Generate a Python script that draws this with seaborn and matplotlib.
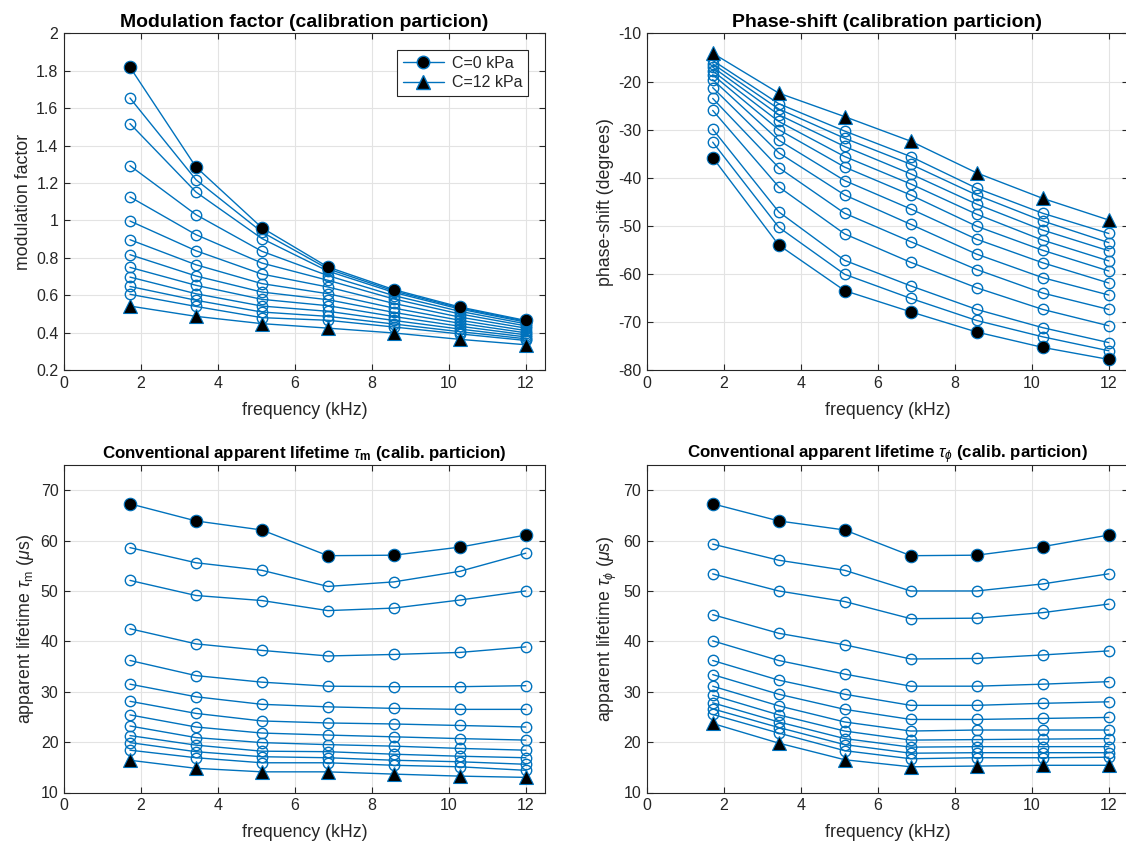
import numpy as np
import pandas as pd
import matplotlib
matplotlib.use("Agg")
import matplotlib.pyplot as plt
import seaborn as sns
from matplotlib.lines import Line2D
from matplotlib.ticker import FuncFormatter

# ---------------- data ----------------
freq = [1.714, 3.429, 5.143, 6.857, 8.571, 10.286, 12.0]   # kHz
conc = list(range(13))                                      # C = 0 .. 12 kPa

# modulation factor, one list per frequency, values for C=0..12
mod_f1 = [1.82, 1.655, 1.518, 1.293, 1.126, 0.997, 0.897, 0.817, 0.749, 0.697, 0.647, 0.605, 0.542]
mod_f2 = [1.286, 1.218, 1.152, 1.031, 0.924, 0.838, 0.763, 0.703, 0.653, 0.608, 0.573, 0.540, 0.487]
mod_f3 = [0.961, 0.938, 0.903, 0.835, 0.772, 0.713, 0.662, 0.617, 0.578, 0.542, 0.510, 0.480, 0.448]
mod_f4 = [0.751, 0.741, 0.729, 0.705, 0.680, 0.644, 0.608, 0.576, 0.544, 0.514, 0.487, 0.466, 0.424]
mod_f5 = [0.630, 0.623, 0.615, 0.598, 0.580, 0.556, 0.531, 0.508, 0.486, 0.465, 0.446, 0.430, 0.398]
mod_f6 = [0.537, 0.532, 0.526, 0.514, 0.500, 0.483, 0.466, 0.450, 0.434, 0.419, 0.405, 0.393, 0.364]
mod_f7 = [0.465, 0.461, 0.456, 0.447, 0.436, 0.424, 0.411, 0.399, 0.388, 0.377, 0.367, 0.358, 0.335]

# phase-shift (degrees)
ph_f1 = [-35.8, -32.6, -29.9, -26.0, -23.5, -21.25, -19.6, -18.6, -17.8, -17.0, -16.3, -15.6, -14.1]
ph_f2 = [-54.0, -50.3, -47.1, -41.9, -37.9, -34.8, -32.2, -30.0, -28.3, -26.9, -25.7, -24.6, -22.4]
ph_f3 = [-63.5, -60.1, -57.2, -51.7, -47.4, -43.6, -40.6, -37.8, -35.6, -33.5, -31.8, -30.3, -27.3]
ph_f4 = [-67.9, -65.1, -62.5, -57.6, -53.3, -49.7, -46.5, -43.6, -41.3, -39.2, -37.2, -35.6, -32.4]
ph_f5 = [-72.1, -69.7, -67.4, -62.9, -59.1, -55.9, -52.8, -50.1, -47.6, -45.5, -43.6, -42.2, -39.0]
ph_f6 = [-75.3, -73.1, -71.2, -67.4, -64.0, -60.8, -57.7, -55.1, -53.0, -50.9, -49.0, -47.4, -44.3]
ph_f7 = [-77.8, -76.0, -74.3, -70.8, -67.4, -64.4, -61.9, -59.4, -57.3, -55.2, -53.5, -51.6, -48.8]

# apparent lifetime tau_m (us)
tm_f1 = [67.3, 58.6, 52.1, 42.5, 36.2, 31.5, 28.1, 25.4, 23.2, 21.3, 19.9, 18.4, 16.4]
tm_f2 = [63.9, 55.6, 49.1, 39.5, 33.2, 29.0, 25.7, 23.0, 20.9, 19.4, 18.1, 16.9, 14.8]
tm_f3 = [62.1, 54.1, 48.1, 38.2, 31.9, 27.5, 24.2, 21.8, 19.9, 18.2, 17.1, 15.9, 14.1]
tm_f4 = [57.0, 50.9, 46.1, 37.1, 31.1, 27.0, 23.8, 21.4, 19.5, 18.1, 16.9, 15.9, 14.1]
tm_f5 = [57.1, 51.8, 46.6, 37.4, 31.0, 26.7, 23.6, 21.05, 19.2, 17.6, 16.4, 15.4, 13.65]
tm_f6 = [58.7, 53.9, 48.2, 37.8, 31.0, 26.5, 23.3, 20.7, 18.75, 17.2, 16.1, 15.1, 13.25]
tm_f7 = [61.1, 57.5, 50.0, 38.9, 31.2, 26.5, 23.0, 20.4, 18.4, 16.9, 15.6, 14.4, 13.0]

# apparent lifetime tau_phi (us)
tp_f1 = [67.3, 59.3, 53.4, 45.3, 40.1, 36.2, 33.4, 31.1, 29.3, 27.8, 26.6, 25.5, 23.7]
tp_f2 = [63.9, 56.1, 50.0, 41.6, 36.2, 32.3, 29.5, 27.2, 25.4, 24.0, 22.9, 21.8, 19.8]
tp_f3 = [62.1, 54.1, 47.9, 39.3, 33.5, 29.5, 26.5, 24.0, 22.2, 20.7, 19.5, 18.3, 16.5]
tp_f4 = [57.0, 50.0, 44.5, 36.5, 31.1, 27.3, 24.5, 22.2, 20.4, 19.0, 17.8, 16.7, 15.1]
tp_f5 = [57.1, 50.0, 44.6, 36.6, 31.1, 27.3, 24.5, 22.4, 20.5, 19.1, 17.9, 16.9, 15.25]
tp_f6 = [58.8, 51.4, 45.7, 37.3, 31.5, 27.7, 24.7, 22.4, 20.6, 19.1, 17.9, 16.9, 15.4]
tp_f7 = [61.1, 53.4, 47.4, 38.1, 32.0, 28.0, 24.9, 22.4, 20.7, 19.1, 17.9, 17.0, 15.4]

titles = [
    "Modulation factor (calibration particion)",
    "Phase-shift (calibration particion)",
    r"Conventional apparent lifetime $\tau_{\mathbf{m}}$ (calib. particion)",
    r"Conventional apparent lifetime $\tau_{\phi}$ (calib. particion)",
]
ylabels = [
    "modulation factor",
    "phase-shift (degrees)",
    r"apparent lifetime $\tau_{\rm m}$ ($\mu$s)",
    r"apparent lifetime $\tau_{\phi}$ ($\mu$s)",
]
xlabel = "frequency (kHz)"
legend_labels = ["C=0 kPa", "C=12 kPa"]

# ---------------- styling ----------------
sns.set_theme(style="whitegrid")
plt.rcParams["font.family"] = ["Liberation Sans", "DejaVu Sans"]
plt.rcParams["mathtext.fontset"] = "custom"
plt.rcParams["mathtext.rm"] = "Liberation Sans"
plt.rcParams["mathtext.it"] = "Liberation Sans:italic"
plt.rcParams["mathtext.bf"] = "Liberation Sans:bold"

BLUE = "#0072BD"
AXC = "#262626"
GRID = "#e3e3e3"
TICK_FS = 11.5
LABEL_FS = 12.8
TITLE_FS = [14.0, 14.0, 12.2, 12.2]

fig = plt.figure(figsize=(11.26, 8.44), dpi=100)
W, H = 1126.0, 844.0


def make_ax(x0, x1, y0, y1):
    return fig.add_axes([x0 / W, 1 - y1 / H, (x1 - x0) / W, (y1 - y0) / H])


axes = [
    make_ax(64, 545, 33.5, 370),
    make_ax(646.7, 1128, 33.5, 370),
    make_ax(64, 545, 465, 792.5),
    make_ax(646.7, 1128, 465, 792.5),
]

panels = [
    [mod_f1, mod_f2, mod_f3, mod_f4, mod_f5, mod_f6, mod_f7],
    [ph_f1, ph_f2, ph_f3, ph_f4, ph_f5, ph_f6, ph_f7],
    [tm_f1, tm_f2, tm_f3, tm_f4, tm_f5, tm_f6, tm_f7],
    [tp_f1, tp_f2, tp_f3, tp_f4, tp_f5, tp_f6, tp_f7],
]
ylims = [(0.2, 2.0), (-80, -10), (10, 75), (10, 75)]
yticks = [np.arange(0.2, 2.01, 0.2), np.arange(-80, -9, 10), np.arange(10, 71, 10), np.arange(10, 71, 10)]

for i, (ax, cols) in enumerate(zip(axes, panels)):
    arr = np.array(cols)  # shape (freq, conc)
    df = pd.DataFrame(arr, columns=conc)
    df["freq"] = freq
    long = df.melt(id_vars="freq", var_name="C", value_name="val")
    # intermediate concentrations: open circles
    for c in conc[1:-1]:
        sub = long[long["C"] == c]
        sns.lineplot(data=sub, x="freq", y="val", ax=ax, color=BLUE, lw=1.0,
                     marker="o", markersize=7.5, markerfacecolor="none",
                     markeredgecolor=BLUE, markeredgewidth=1.0, legend=False,
                     estimator=None, sort=False, zorder=3)
    sub0 = long[long["C"] == conc[0]]
    sns.lineplot(data=sub0, x="freq", y="val", ax=ax, color=BLUE, lw=1.0,
                 marker="o", markersize=9, markerfacecolor="black",
                 markeredgecolor=BLUE, markeredgewidth=0.8, legend=False,
                 estimator=None, sort=False, zorder=4)
    sub12 = long[long["C"] == conc[-1]]
    sns.lineplot(data=sub12, x="freq", y="val", ax=ax, color=BLUE, lw=1.0,
                 marker="^", markersize=9.5, markerfacecolor="black",
                 markeredgecolor=BLUE, markeredgewidth=0.8, legend=False,
                 estimator=None, sort=False, zorder=4)

    ax.set_xlim(0, 12.5)
    ax.set_ylim(*ylims[i])
    ax.set_xticks(np.arange(0, 13, 2))
    ax.set_yticks(yticks[i])
    ax.yaxis.set_major_formatter(FuncFormatter(lambda v, p: f"{v:.10g}"))
    ax.set_facecolor("white")
    ax.grid(True, color=GRID, lw=0.8)
    for s in ax.spines.values():
        s.set_color(AXC)
        s.set_linewidth(0.8)
        s.set_visible(True)
    ax.tick_params(direction="in", length=4, width=0.8, color=AXC, labelcolor=AXC,
                   labelsize=TICK_FS, top=True, right=True, bottom=True, left=True, pad=4)
    ax.set_xlabel(xlabel, fontsize=LABEL_FS, color=AXC, labelpad=8)
    ax.set_ylabel(ylabels[i], fontsize=LABEL_FS, color=AXC, labelpad=3)
    ax.set_title(titles[i], fontsize=TITLE_FS[i], fontweight="bold", color="black", pad=5)

# legend on the first panel
h0 = Line2D([], [], color=BLUE, lw=1.0, marker="o", markersize=9,
            markerfacecolor="black", markeredgecolor=BLUE)
h12 = Line2D([], [], color=BLUE, lw=1.0, marker="^", markersize=9.5,
             markerfacecolor="black", markeredgecolor=BLUE)
leg = axes[0].legend([h0, h12], legend_labels, loc="upper right",
                     bbox_to_anchor=(0.965, 0.951), borderaxespad=0,
                     fontsize=TICK_FS, frameon=True,
                     fancybox=False, framealpha=1, edgecolor=AXC,
                     handlelength=2.6, handletextpad=0.5, borderpad=0.35,
                     labelspacing=0.3)
leg.get_frame().set_linewidth(0.8)
for t in leg.get_texts():
    t.set_color(AXC)

fig.savefig("out.png", dpi=100)
